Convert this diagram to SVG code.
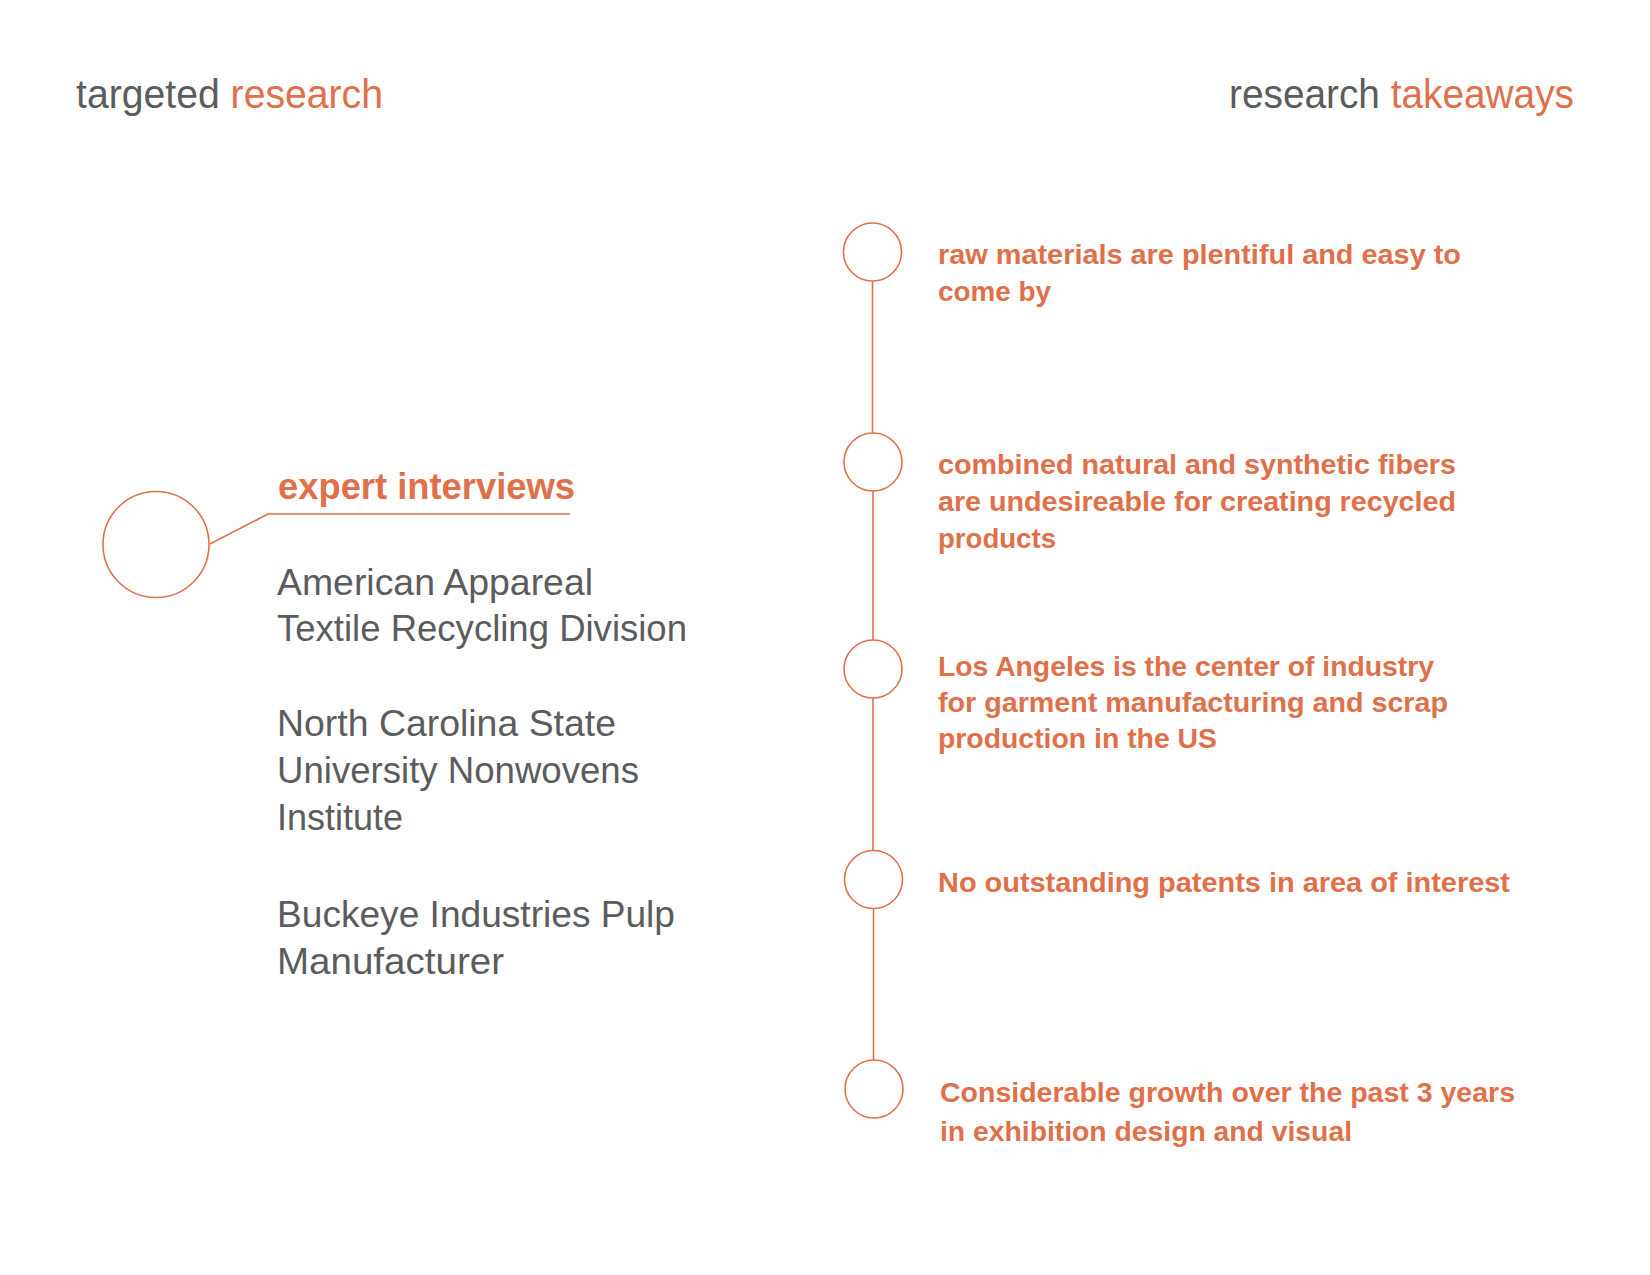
<svg xmlns="http://www.w3.org/2000/svg" width="1650" height="1275" viewBox="0 0 1650 1275">
<style>
.bg{fill:#ffffff}
.ring{fill:none;stroke:#E0704A;stroke-width:1.6}
.conn{fill:none;stroke:#E0704A;stroke-width:1.6}
.title{font-family:"Liberation Sans",Arial,sans-serif;font-size:40px;fill:#5B5C5E}
.acc{fill:#E0704A}
.head{font-family:"Liberation Sans",Arial,sans-serif;font-size:36px;font-weight:bold;fill:#E0704A}
.gray{font-family:"Liberation Sans",Arial,sans-serif;font-size:36px;fill:#5B5C5E}
.take{font-family:"Liberation Sans",Arial,sans-serif;font-size:27px;font-weight:bold;fill:#E0704A}
</style>
<rect class="bg" x="0" y="0" width="1650" height="1275"/>

<g id="title-left">
<text class="title" x="76" y="108" textLength="307" lengthAdjust="spacingAndGlyphs">targeted <tspan class="acc">research</tspan></text>
</g>
<g id="title-right">
<text class="title" x="1229" y="108" textLength="345" lengthAdjust="spacingAndGlyphs">research <tspan class="acc">takeaways</tspan></text>
</g>

<g id="connectors">
<polyline class="conn" points="210,544 268,514 570,514"/>
<line class="conn" x1="872.5" y1="281" x2="872.5" y2="433"/>
<line class="conn" x1="873" y1="491" x2="873" y2="640"/>
<line class="conn" x1="873" y1="698" x2="873" y2="850"/>
<line class="conn" x1="873.5" y1="909" x2="873.5" y2="1060"/>
</g>

<g id="expert-interviews">
<circle class="ring" cx="156" cy="544.5" r="53"/>
<text class="head" x="278" y="499" textLength="297" lengthAdjust="spacingAndGlyphs">expert interviews</text>
<text class="gray" x="277" y="595" textLength="316" lengthAdjust="spacingAndGlyphs">American Appareal</text>
<text class="gray" x="277" y="641" textLength="410" lengthAdjust="spacingAndGlyphs">Textile Recycling Division</text>
<text class="gray" x="277" y="736" textLength="339" lengthAdjust="spacingAndGlyphs">North Carolina State</text>
<text class="gray" x="277" y="783" textLength="362" lengthAdjust="spacingAndGlyphs">University Nonwovens</text>
<text class="gray" x="277" y="830">Institute</text>
<text class="gray" x="277" y="927" textLength="398" lengthAdjust="spacingAndGlyphs">Buckeye Industries Pulp</text>
<text class="gray" x="277" y="974" textLength="227" lengthAdjust="spacingAndGlyphs">Manufacturer</text>
</g>

<g id="takeaway-1">
<circle class="ring" cx="872.5" cy="252" r="29"/>
<text class="take" x="938" y="264" textLength="523" lengthAdjust="spacingAndGlyphs">raw materials are plentiful and easy to</text>
<text class="take" x="938" y="301" textLength="113" lengthAdjust="spacingAndGlyphs">come by</text>
</g>

<g id="takeaway-2">
<circle class="ring" cx="873" cy="462" r="29"/>
<text class="take" x="938" y="474" textLength="518" lengthAdjust="spacingAndGlyphs">combined natural and synthetic fibers</text>
<text class="take" x="938" y="511" textLength="518" lengthAdjust="spacingAndGlyphs">are undesireable for creating recycled</text>
<text class="take" x="938" y="548" textLength="118" lengthAdjust="spacingAndGlyphs">products</text>
</g>

<g id="takeaway-3">
<circle class="ring" cx="873" cy="669" r="29"/>
<text class="take" x="938" y="676" textLength="496" lengthAdjust="spacingAndGlyphs">Los Angeles is the center of industry</text>
<text class="take" x="938" y="712" textLength="510" lengthAdjust="spacingAndGlyphs">for garment manufacturing and scrap</text>
<text class="take" x="938" y="748" textLength="279" lengthAdjust="spacingAndGlyphs">production in the US</text>
</g>

<g id="takeaway-4">
<circle class="ring" cx="873.5" cy="879.5" r="29"/>
<text class="take" x="938" y="892" textLength="572" lengthAdjust="spacingAndGlyphs">No outstanding patents in area of interest</text>
</g>

<g id="takeaway-5">
<circle class="ring" cx="874" cy="1089" r="29"/>
<text class="take" x="940" y="1102" textLength="575" lengthAdjust="spacingAndGlyphs">Considerable growth over the past 3 years</text>
<text class="take" x="940" y="1141" textLength="412" lengthAdjust="spacingAndGlyphs">in exhibition design and visual</text>
</g>
</svg>
